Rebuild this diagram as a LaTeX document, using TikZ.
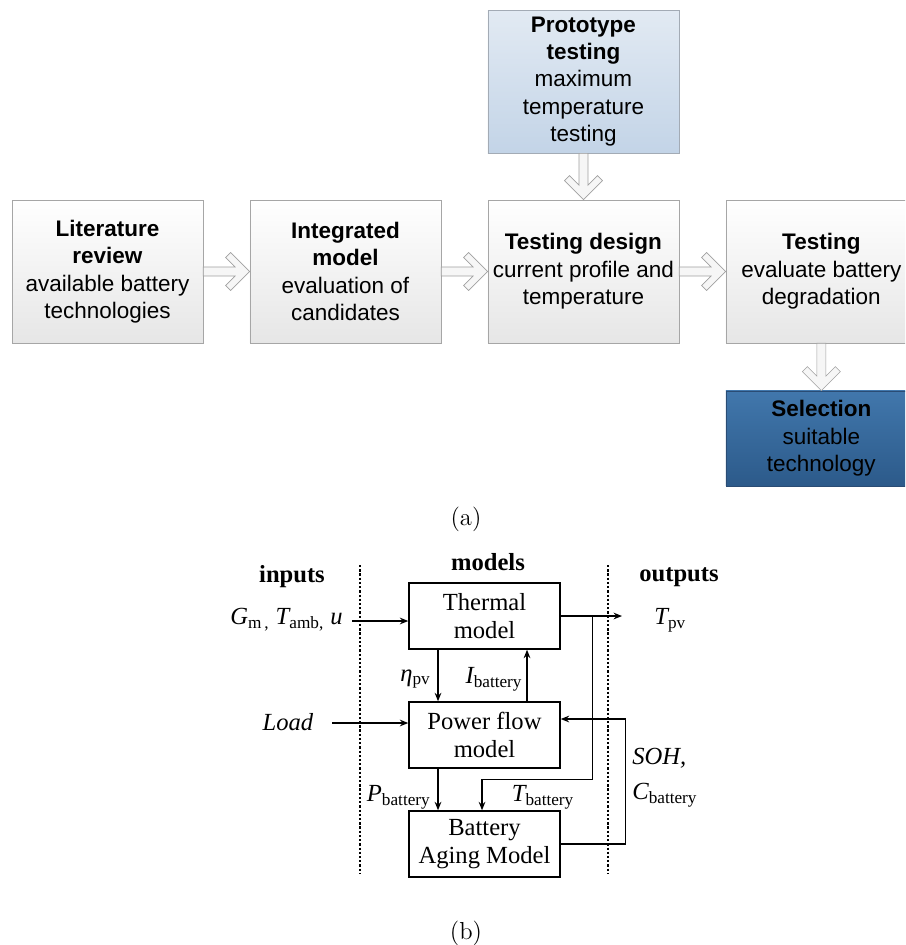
\documentclass[tikz,border=0pt]{standalone}
\usepackage{fontspec}
\newfontfamily\arialfont{Liberation Sans}
\newfontfamily\timesfont{Liberation Serif}
\usetikzlibrary{arrows.meta, positioning, calc}
\definecolor{stageline}{HTML}{A6A6A6}
\definecolor{stagebot}{HTML}{E6E6E6}
\definecolor{protoline}{HTML}{A3ABB5}
\definecolor{prototop}{HTML}{E2EAF3}
\definecolor{protobot}{HTML}{C3D4E7}
\definecolor{seltop}{HTML}{4177AC}
\definecolor{selbot}{HTML}{2C5A8A}
\definecolor{selline}{HTML}{2A4C74}
\definecolor{chevline}{HTML}{A0A0A0}
\definecolor{chevfill}{HTML}{F6F6F6}
\newcommand*{\lowidx}[1]{\textsubscript{#1}}
\newcommand*{\rchev}[2]{\draw[chev] ($(#1.east)+(0,-4.5)$) -- ($(#2.west)+(-14.5,-4.5)$)
  -- ($(#2.west)+(-24,-14)$) -- ($(#2.west)+(-19,-19)$) -- (#2.west) -- ($(#2.west)+(-19,19)$)
  -- ($(#2.west)+(-24,14)$) -- ($(#2.west)+(-14.5,4.5)$) -- ($(#1.east)+(0,4.5)$) -- cycle;}
\newcommand*{\dchev}[2]{\draw[chev] ($(#1.south)+(-4.5,0)$) -- ($(#2.north)+(-4.5,-14.5)$)
  -- ($(#2.north)+(-14,-24)$) -- ($(#2.north)+(-19,-19)$) -- (#2.north) -- ($(#2.north)+(19,-19)$)
  -- ($(#2.north)+(14,-24)$) -- ($(#2.north)+(4.5,-14.5)$) -- ($(#1.south)+(4.5,0)$) -- cycle;}

\begin{document}
\begin{tikzpicture}[
        x=0.02cm, y=-0.02cm, on grid, >={Stealth[length=4.8pt,width=3.8pt]},
        stage/.style={draw=stageline, top color=white, bottom color=stagebot, minimum width=3.82cm,
          minimum height=2.86cm, inner sep=0pt, align=center, font=\arialfont\fontsize{12.8}{15.6}\selectfont},
        block/.style={draw, line width=0.85pt, minimum width=3.02cm, minimum height=1.32cm, inner sep=0pt,
          align=center, font=\timesfont\fontsize{14}{15.9}\selectfont},
        lbl/.style={inner sep=0pt, font=\timesfont\fontsize{14}{16}\selectfont},
        head/.style={inner sep=0pt, font=\timesfont\bfseries\fontsize{14}{16}\selectfont},
        arr/.style={->, line width=0.85pt},
        sep/.style={line width=1.3pt, dash pattern=on 1.3pt off 1.1pt},
        chev/.style={draw=chevline, fill=chevfill, line width=0.4pt},
        ]
        \useasboundingbox (0,0) rectangle (905,945);
        \clip (0,0) rectangle (905,945);

        \node[stage]         (lit)     at (107.5,271.5)         {\textbf{Literature}\\\textbf{review}\\available battery\\technologies};
        \node[stage]         (integ)   [right=4.76cm of lit]   {\textbf{Integrated}\\\textbf{model}\\evaluation of\\candidates};
        \node[stage]         (design)  [right=4.76cm of integ] {\textbf{Testing design}\\current profile and\\temperature};
        \node[stage]         (testing) [right=4.76cm of design] {\textbf{Testing}\\evaluate battery\\degradation};
        \node[stage, draw=protoline, top color=prototop, bottom color=protobot]
                             (proto)   [above=3.8cm of design] {\textbf{Prototype}\\\textbf{testing}\\maximum\\temperature\\testing};
        \node[stage, draw=selline, top color=seltop, bottom color=selbot, minimum height=1.9cm]
                             (select)  [below=3.34cm of testing] {\textbf{Selection}\\suitable\\technology};
        \rchev{lit}{integ}
        \rchev{integ}{design}
        \rchev{design}{testing}
        \dchev{proto}{design}
        \dchev{testing}{select}
        \node (capa) at (466,519) {\fontsize{14}{16}\selectfont (a)};

        \node[block] (thermal) at (484.5,616) {Thermal\\model};
        \node[block] (power)   at (484.5,735) {Power flow\\model};
        \node[block] (battery) at (484.5,844) {Battery\\Aging Model};
        \node[head] (inputs)  at (292,577) {inputs};
        \node[head] (models)  at (488,562) {models};
        \node[head] (outputs) at (679,577) {outputs};
        \draw[sep] (360,565) -- (360,873);
        \draw[sep] (608,565) -- (608,873);

        \node[lbl, anchor=east] (gin) at (343,620) {{\itshape G}\lowidx{m\,,} {\itshape T}\lowidx{amb,} {\itshape u}};
        \node[lbl] (load) at (288,722) {\itshape Load};
        \coordinate (gstart) at (352,621);
        \coordinate (lstart) at (332,723);
        \draw[arr] (gstart) -- (gstart -| thermal.west);
        \draw[arr] (lstart) -- (lstart -| power.west);

        \draw[arr] ($(thermal.south)+(-46.5,0)$) -- ($(power.north)+(-46.5,0)$);
        \draw[arr] ($(power.north)+(42.5,0)$) -- ($(thermal.south)+(42.5,0)$);
        \draw[arr] ($(power.south)+(-46.5,0)$) -- ($(battery.north)+(-46.5,0)$);
        \node[lbl, anchor=east] (eta)  at (431,679) {{\itshape η}\lowidx{pv}};
        \node[lbl]              (ibat) at (494,679) {{\itshape I}\lowidx{battery}};
        \node[lbl, anchor=east] (pbat) at (431,797) {{\itshape P}\lowidx{battery}};

        \coordinate (tpv) at (622,616);
        \coordinate (split) at ($(thermal.east)+(32,0)$);
        \coordinate (tbend) at ($(battery.north)+(-2.5,-31)$);
        \draw[arr] (thermal.east) -- (tpv);
        \draw[arr] (split) |- (tbend) -- (tbend |- battery.north);
        \node[lbl, anchor=west] (tpvlbl) at (654,620) {{\itshape T}\lowidx{pv}};
        \node[lbl]              (tbat)   at (543,797) {{\itshape T}\lowidx{battery}};

        \draw[arr] (battery.east) -- ++(65,0) |- ($(power.east)+(0,-16)$);
        \node[lbl, anchor=west] (soh)  at (632,758) {\itshape SOH,};
        \node[lbl, anchor=west] (cbat) at (632,795) {{\itshape C}\lowidx{battery}};

        \node (capb) at (466,933) {\fontsize{14}{16}\selectfont (b)};
      \end{tikzpicture}
\end{document}
